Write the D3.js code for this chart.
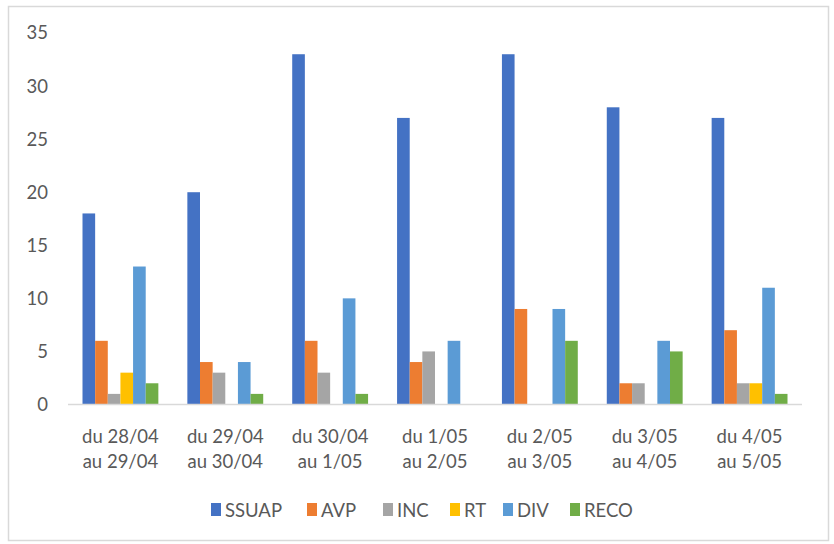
<!DOCTYPE html>
<html>
<head>
<meta charset="utf-8">
<script src="https://cdn.jsdelivr.net/npm/d3@7"></script>
<style>
  body { margin: 0; background: #fff; }
  svg { font-family: Lato, "Open Sans", sans-serif; }
</style>
</head>
<body>
<div id="root"></div>
<script>
// Chart data.
const categories = [
  ['du 28/04', 'au 29/04'],
  ['du 29/04', 'au 30/04'],
  ['du 30/04', 'au 1/05'],
  ['du 1/05', 'au 2/05'],
  ['du 2/05', 'au 3/05'],
  ['du 3/05', 'au 4/05'],
  ['du 4/05', 'au 5/05']
];
const seriesNames = ['SSUAP', 'AVP', 'INC', 'RT', 'DIV', 'RECO'];
const SSUAP = [18, 20, 33, 27, 33, 28, 27];
const AVP = [6, 4, 6, 4, 9, 2, 7];
const INC = [1, 3, 3, 5, 0, 2, 2];
const RT = [3, 0, 0, 0, 0, 0, 2];
const DIV = [13, 4, 10, 6, 9, 6, 11];
const RECO = [2, 1, 1, 0, 6, 5, 1];
const yTicks = [0, 5, 10, 15, 20, 25, 30, 35];

const seriesValues = [SSUAP, AVP, INC, RT, DIV, RECO];
const colors = ['#4472C4', '#ED7D31', '#A5A5A5', '#FFC000', '#5B9BD5', '#70AD47'];

const W = 834, H = 544;
const margin = { top: 33, right: 32, bottom: 140, left: 68 };
const width = W - margin.left - margin.right;
const height = 404.5 - margin.top;

const svg = d3.select('#root').append('svg')
  .attr('width', W)
  .attr('height', H);

// outer frame
svg.append('rect')
  .attr('x', 8.5).attr('y', 6.5)
  .attr('width', 820).attr('height', 534)
  .attr('fill', '#fff')
  .attr('stroke', '#d9d9d9')
  .attr('stroke-width', 1.5);

const g = svg.append('g')
  .attr('transform', `translate(${margin.left}, ${margin.top})`);

const x0 = d3.scaleBand()
  .domain(d3.range(categories.length))
  .range([0, width]);

const gap = 29;
const x1 = d3.scaleBand()
  .domain(d3.range(seriesNames.length))
  .range([gap / 2, x0.bandwidth() - gap / 2]);

const y = d3.scaleLinear()
  .domain([0, 35])
  .range([height, 0]);

// y tick labels
g.selectAll('.ylab')
  .data(yTicks)
  .enter()
  .append('text')
  .attr('class', 'ylab')
  .attr('x', -20)
  .attr('y', d => y(d))
  .attr('dy', '0.35em')
  .style('text-anchor', 'end')
  .style('font-size', '18.5px')
  .style('fill', '#595959')
  .text(d => d);

// bars
const groups = g.selectAll('.grp')
  .data(categories)
  .enter()
  .append('g')
  .attr('class', 'grp')
  .attr('transform', (d, i) => `translate(${x0(i)}, 0)`);

groups.selectAll('rect')
  .data((d, i) => seriesValues.map((s, k) => ({ k: k, v: s[i] })))
  .enter()
  .append('rect')
  .attr('x', d => x1(d.k))
  .attr('width', x1.bandwidth())
  .attr('y', d => y(d.v))
  .attr('height', d => height - y(d.v))
  .attr('fill', d => colors[d.k]);

// baseline
g.append('line')
  .attr('x1', 0).attr('x2', width)
  .attr('y1', height).attr('y2', height)
  .attr('stroke', '#d9d9d9')
  .attr('stroke-width', 1.5);

// category labels
const xl = g.selectAll('.xlab')
  .data(categories)
  .enter()
  .append('text')
  .attr('class', 'xlab')
  .attr('x', (d, i) => x0(i) + x0.bandwidth() / 2)
  .attr('y', height + 38)
  .style('text-anchor', 'middle')
  .style('font-size', '18.5px')
  .style('fill', '#595959');

xl.append('tspan').attr('x', (d, i) => x0(i) + x0.bandwidth() / 2).text(d => d[0]);
xl.append('tspan').attr('x', (d, i) => x0(i) + x0.bandwidth() / 2).attr('dy', 25).text(d => d[1]);

// legend
const legend = svg.append('g').attr('transform', 'translate(0, 510)');
const legendX = [211, 307, 383, 450, 503, 570];
seriesNames.forEach((name, i) => {
  const it = legend.append('g').attr('transform', `translate(${legendX[i]}, 0)`);
  it.append('rect').attr('x', 0).attr('y', -7).attr('width', 10).attr('height', 13).attr('fill', colors[i]);
  it.append('text').attr('x', 14).attr('dy', '0.36em')
    .style('font-size', '18.5px').style('fill', '#595959').text(name);
});
</script>
</body>
</html>
